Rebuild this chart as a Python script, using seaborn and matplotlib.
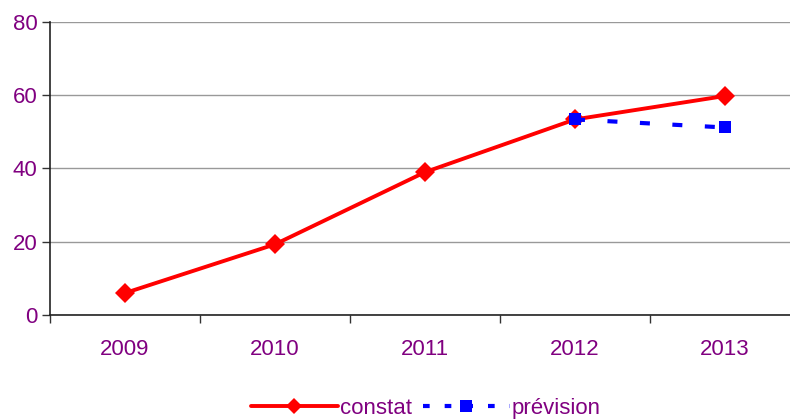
import matplotlib
matplotlib.use("Agg")
import matplotlib.pyplot as plt
import seaborn as sns
import pandas as pd
from matplotlib.lines import Line2D

years = ["2009", "2010", "2011", "2012", "2013"]
constat = [6.0, 19.3, 39.0, 53.4, 59.8]
prevision_years = ["2012", "2013"]
prevision = [53.4, 51.2]

sns.set_style("white")
plt.rcParams['font.family'] = ['Liberation Sans', 'DejaVu Sans']

purple = "#800080"
df_c = pd.DataFrame({"x": [years.index(y) for y in years], "v": constat})
df_p = pd.DataFrame({"x": [years.index(y) for y in prevision_years], "v": prevision})

fig = plt.figure(figsize=(7.9, 4.19), dpi=100)
ax = fig.add_axes([50/790, 104/419, 750/790, 293/419])

sns.lineplot(data=df_c, x="x", y="v", ax=ax, color="#ff0000", lw=2.8,
             marker="D", markersize=10, markeredgewidth=0, zorder=3)
sns.lineplot(data=df_p, x="x", y="v", ax=ax, color="#0000ff", lw=3.0,
             marker="s", markersize=8.5, markeredgewidth=0, zorder=4)
ax.lines[-1].set_dashes((2.4, 5.4))

ax.set_xlim(-0.5, 4.5)
ax.set_ylim(0, 80)
ax.set_yticks([0, 20, 40, 60, 80])
ax.yaxis.grid(True, color="#999999", lw=1)
ax.set_axisbelow(True)
ax.set_xticks(range(len(years)))
ax.set_xticklabels(years)
ax.set_xticks([i - 0.5 for i in range(len(years) + 1)], minor=True)
ax.tick_params(axis="x", which="major", bottom=True, length=0, pad=17, labelsize=16, labelcolor=purple)
ax.tick_params(axis="x", which="minor", bottom=True, length=6, width=1, color="#333333", direction="out")
ax.tick_params(axis="y", which="major", left=True, length=6, width=1, color="#333333", direction="out",
               labelsize=16, labelcolor=purple, pad=3)
for s in ["top", "right"]:
    ax.spines[s].set_visible(False)
for s in ["left", "bottom"]:
    ax.spines[s].set_color("#222222")
    ax.spines[s].set_linewidth(1.2)
ax.set_xlabel("")
ax.set_ylabel("")
if ax.get_legend():
    ax.get_legend().remove()

h1 = Line2D([], [], color="#ff0000", lw=2.8, marker="D", markersize=8, markeredgewidth=0)
h2 = Line2D([], [], color="#0000ff", lw=3.0, marker="s", markersize=8, markeredgewidth=0,
            dashes=(1.6, 3.6))
fig.legend([h1, h2], ["constat", "prévision"], loc="center", bbox_to_anchor=(426/790, 1 - 408/419),
           ncol=2, frameon=False, fontsize=16, labelcolor=purple, handlelength=3.9,
           handletextpad=0.1, columnspacing=0.5)

fig.savefig("out.png", dpi=100)
